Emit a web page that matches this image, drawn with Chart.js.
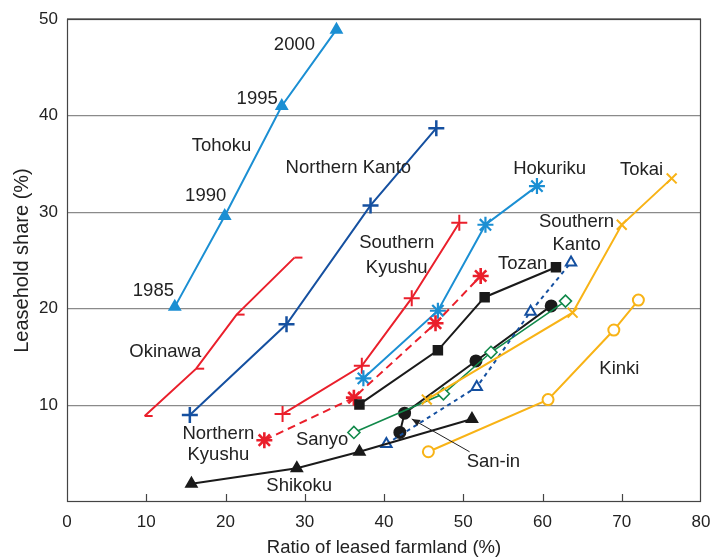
<!DOCTYPE html>
<html>
<head>
<meta charset="utf-8">
<script src="https://cdn.jsdelivr.net/npm/chart.js@4/dist/chart.umd.min.js"></script>
<style>
  html, body { margin: 0; padding: 0; background: #fff; }
  #wrap { width: 712px; height: 559px; }
</style>
</head>
<body>
<div id="wrap"><canvas id="c" width="712" height="559"></canvas></div>
<script>
// Regional paths: ratio of leased farmland (x, %) vs leasehold share (y, %), 1985-2000
const xTicks = [0, 10, 20, 30, 40, 50, 60, 70, 80];
const yTicks = [10, 20, 30, 40, 50];

const tohokuX = [13.6, 19.9, 27.1, 34.0];
const tohokuY = [20.2, 29.6, 41.0, 48.9];
const okinawaX = [9.8, 16.3, 21.4, 28.7];
const okinawaY = [8.9, 13.8, 19.4, 25.3];
const nKantoX = [15.5, 27.7, 38.3, 46.6];
const nKantoY = [9.0, 18.4, 30.7, 38.7];
const sKyushuX = [27.2, 37.2, 43.5, 49.5];
const sKyushuY = [9.1, 14.1, 21.1, 28.9];
const nKyushuX = [24.9, 36.2, 46.5, 52.2];
const nKyushuY = [6.4, 10.8, 18.5, 23.4];
const hokurikuX = [37.4, 46.8, 52.8, 59.3];
const hokurikuY = [12.8, 19.8, 28.7, 32.7];
const tozanX = [36.9, 46.8, 52.7, 61.7];
const tozanY = [10.1, 15.7, 21.2, 24.3];
const sKantoX = [40.3, 51.7, 58.5, 63.6];
const sKantoY = [6.0, 11.9, 19.7, 24.8];
const saninX = [42.0, 42.6, 51.6, 61.1];
const saninY = [7.2, 9.2, 14.6, 20.3];
const sanyoX = [36.2, 47.5, 53.5, 62.9];
const sanyoY = [7.2, 11.2, 15.5, 20.8];
const shikokuX = [15.7, 29.0, 36.9, 51.1];
const shikokuY = [1.9, 3.5, 5.2, 8.6];
const tokaiX = [45.4, 63.8, 70.0, 76.3];
const tokaiY = [10.6, 19.6, 28.7, 33.5];
const kinkiX = [45.6, 60.7, 69.0, 72.1];
const kinkiY = [5.2, 10.6, 17.8, 20.9];

// Text annotations placed in data units
const noteText = ['2000', '1995', 'Tohoku', '1990', '1985', 'Okinawa', 'Northern Kanto',
  'Southern', 'Kyushu', 'Hokuriku', 'Tokai', 'Southern', 'Kanto', 'Tozan', 'Kinki',
  'Northern', 'Kyushu', 'Sanyo', 'San-in', 'Shikoku'];
const noteX = [28.7, 24.0, 19.5, 17.5, 10.9, 12.4, 35.5, 41.6, 41.6, 60.9, 72.5, 64.3, 64.3,
  57.5, 69.7, 19.1, 19.1, 32.2, 53.8, 29.3];
const noteY = [47.3, 41.7, 36.9, 31.7, 21.9, 15.5, 34.6, 26.8, 24.2, 34.5, 34.4, 29.0, 26.6,
  24.6, 13.8, 7.1, 4.9, 6.4, 4.2, 1.7];
// Leader arrow for San-in: tail then head
const arrowX = [50.8, 43.5];
const arrowY = [5.2, 8.6];

const FONT = '"Liberation Sans", Arial, sans-serif';
const LIGHT_BLUE = '#1b8fd3';
const DARK_BLUE = '#1550a0';
const RED = '#ea1f2b';
const BLACK = '#1a1a1a';
const GREEN = '#11894a';
const ORANGE = '#f8b316';

const pts = (xs, ys) => xs.map((v, i) => ({ x: v, y: ys[i] }));

function series(label, xs, ys, color, style, opts) {
  return Object.assign({
    label,
    data: pts(xs, ys),
    showLine: true,
    borderColor: color,
    backgroundColor: color,
    pointBorderColor: color,
    pointBackgroundColor: color,
    borderWidth: 2,
    pointBorderWidth: 2,
    pointStyle: style,
    pointRadius: 6,
    clip: false
  }, opts || {});
}

const datasets = [
  series('Shikoku', shikokuX, shikokuY, BLACK, 'triangle', { pointRadius: 6 }),
  series('Kinki', kinkiX, kinkiY, ORANGE, 'circle', { pointBackgroundColor: '#fff', pointRadius: 5.5 }),
  series('Tokai', tokaiX, tokaiY, ORANGE, 'crossRot', { pointRadius: 7 }),
  series('Southern Kanto', sKantoX, sKantoY, DARK_BLUE, 'triangle', { pointBackgroundColor: '#fff', borderDash: [4, 4], pointRadius: 6 }),
  series('Sanyo', sanyoX, sanyoY, GREEN, 'rectRot', { pointBackgroundColor: '#fff', pointRadius: 6, borderWidth: 1.6, pointBorderWidth: 1.6 }),
  series('San-in', saninX, saninY, BLACK, 'circle', { pointRadius: 5.5 }),
  series('Tozan', tozanX, tozanY, BLACK, 'rect', { pointRadius: 6 }),
  series('Northern Kyushu', nKyushuX, nKyushuY, RED, 'star', { borderDash: [8, 5], pointRadius: 8, pointBorderWidth: 2.6 }),
  series('Hokuriku', hokurikuX, hokurikuY, LIGHT_BLUE, 'star', { pointRadius: 8, pointBorderWidth: 2.2 }),
  series('Southern Kyushu', sKyushuX, sKyushuY, RED, 'cross', { pointRadius: 8 }),
  series('Northern Kanto', nKantoX, nKantoY, DARK_BLUE, 'cross', { pointRadius: 8, pointBorderWidth: 2.5 }),
  series('Okinawa', okinawaX, okinawaY, RED, 'dash', { pointRadius: 8 }),
  series('Tohoku', tohokuX, tohokuY, LIGHT_BLUE, 'triangle', { pointRadius: 6 })
];

// Frame, inward x ticks
const framePlugin = {
  id: 'frame',
  beforeDatasetsDraw(chart) {
    const { ctx, chartArea: a, scales } = chart;
    ctx.save();
    ctx.strokeStyle = '#444';
    ctx.lineWidth = 1.2;
    ctx.strokeRect(a.left + 0.5, a.top + 0.5, a.right - a.left - 1, a.bottom - a.top - 1);
    ctx.beginPath();
    xTicks.slice(1, -1).forEach(v => {
      const px = Math.round(scales.x.getPixelForValue(v)) + 0.5;
      ctx.moveTo(px, a.bottom);
      ctx.lineTo(px, a.bottom - 8);
    });
    ctx.stroke();
    ctx.restore();
  }
};

// Region / year annotations and the San-in leader
const notesPlugin = {
  id: 'notes',
  afterDatasetsDraw(chart) {
    const { ctx, scales: { x, y } } = chart;
    ctx.save();
    ctx.fillStyle = '#222';
    ctx.font = '18.5px ' + FONT;
    ctx.textAlign = 'center';
    ctx.textBaseline = 'middle';
    noteText.forEach((t, i) => {
      ctx.fillText(t, x.getPixelForValue(noteX[i]), y.getPixelForValue(noteY[i]));
    });
    const x0 = x.getPixelForValue(arrowX[0]), y0 = y.getPixelForValue(arrowY[0]);
    const x1 = x.getPixelForValue(arrowX[1]), y1 = y.getPixelForValue(arrowY[1]);
    ctx.strokeStyle = '#222';
    ctx.lineWidth = 1;
    ctx.beginPath();
    ctx.moveTo(x0, y0);
    ctx.lineTo(x1, y1);
    ctx.stroke();
    const ang = Math.atan2(y1 - y0, x1 - x0);
    const L = 9, W = 0.4;
    ctx.beginPath();
    ctx.moveTo(x1, y1);
    ctx.lineTo(x1 - L * Math.cos(ang - W), y1 - L * Math.sin(ang - W));
    ctx.lineTo(x1 - L * Math.cos(ang + W), y1 - L * Math.sin(ang + W));
    ctx.closePath();
    ctx.fillStyle = '#222';
    ctx.fill();
    ctx.restore();
  }
};

new Chart(document.getElementById('c'), {
  type: 'scatter',
  data: { datasets },
  options: {
    responsive: false,
    animation: false,
    layout: { padding: { top: 19, right: 11, left: 0, bottom: 0 } },
    plugins: { legend: { display: false }, tooltip: { enabled: false } },
    scales: {
      x: {
        type: 'linear',
        min: 0, max: 80,
        afterBuildTicks(s) { s.ticks = xTicks.map(v => ({ value: v })); },
        afterFit(s) { s.height = 57; s.paddingLeft = 0; s.paddingRight = 0; },
        grid: { display: false, drawTicks: false },
        border: { display: false },
        ticks: {
          color: '#222',
          padding: 10,
          maxRotation: 0,
          font: { family: FONT, size: 17 }
        },
        title: {
          display: true,
          text: 'Ratio of leased farmland (%)',
          color: '#222',
          padding: { top: 4, bottom: 0 },
          font: { family: FONT, size: 18.5 }
        }
      },
      y: {
        type: 'linear',
        min: 0, max: 50,
        afterBuildTicks(s) { s.ticks = yTicks.map(v => ({ value: v })); },
        afterFit(s) { s.width = 67; s.paddingTop = 0; s.paddingBottom = 0; },
        grid: { color: '#8a8a8a', lineWidth: 1.2, drawTicks: false },
        border: { display: false },
        ticks: {
          color: '#222',
          padding: 9,
          font: { family: FONT, size: 17 }
        },
        title: {
          display: true,
          text: 'Leasehold share (%)',
          color: '#222',
          padding: { top: 10, bottom: 0 },
          font: { family: FONT, size: 20 }
        }
      }
    }
  },
  plugins: [framePlugin, notesPlugin]
});
</script>
</body>
</html>
